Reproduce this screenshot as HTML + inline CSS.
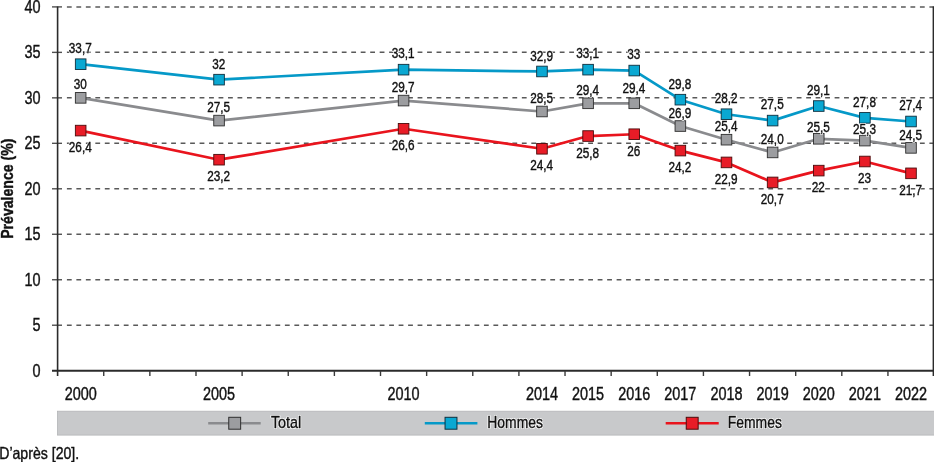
<!DOCTYPE html><html><head><meta charset="utf-8"><style>html,body{margin:0;padding:0;background:#fff;width:934px;height:462px;overflow:hidden}svg{position:absolute;left:0;top:0;will-change:transform}text{stroke:#111;stroke-width:0.4px}text.h{stroke:#fff;fill:#fff;stroke-width:2px;stroke-linejoin:round}</style></head><body>
<svg width="934" height="462" viewBox="0 0 934 462">
<line x1="66.9" y1="325.22" x2="934" y2="325.22" stroke="#595959" stroke-width="1.5" stroke-dasharray="4.8 4.678"/>
<line x1="52" y1="325.22" x2="62" y2="325.22" stroke="#505050" stroke-width="1.4"/>
<line x1="66.9" y1="279.75" x2="934" y2="279.75" stroke="#595959" stroke-width="1.5" stroke-dasharray="4.8 4.678"/>
<line x1="52" y1="279.75" x2="62" y2="279.75" stroke="#505050" stroke-width="1.4"/>
<line x1="66.9" y1="234.27" x2="934" y2="234.27" stroke="#595959" stroke-width="1.5" stroke-dasharray="4.8 4.678"/>
<line x1="52" y1="234.27" x2="62" y2="234.27" stroke="#505050" stroke-width="1.4"/>
<line x1="66.9" y1="188.80" x2="934" y2="188.80" stroke="#595959" stroke-width="1.5" stroke-dasharray="4.8 4.678"/>
<line x1="52" y1="188.80" x2="62" y2="188.80" stroke="#505050" stroke-width="1.4"/>
<line x1="66.9" y1="143.32" x2="934" y2="143.32" stroke="#595959" stroke-width="1.5" stroke-dasharray="4.8 4.678"/>
<line x1="52" y1="143.32" x2="62" y2="143.32" stroke="#505050" stroke-width="1.4"/>
<line x1="66.9" y1="97.85" x2="934" y2="97.85" stroke="#595959" stroke-width="1.5" stroke-dasharray="4.8 4.678"/>
<line x1="52" y1="97.85" x2="62" y2="97.85" stroke="#505050" stroke-width="1.4"/>
<line x1="66.9" y1="52.37" x2="934" y2="52.37" stroke="#595959" stroke-width="1.5" stroke-dasharray="4.8 4.678"/>
<line x1="52" y1="52.37" x2="62" y2="52.37" stroke="#505050" stroke-width="1.4"/>
<line x1="66.9" y1="6.90" x2="934" y2="6.90" stroke="#595959" stroke-width="1.5" stroke-dasharray="4.8 4.678"/>
<line x1="52" y1="6.90" x2="62" y2="6.90" stroke="#505050" stroke-width="1.4"/>
<line x1="57.60" y1="6.40" x2="57.60" y2="376" stroke="#2b2b2b" stroke-width="1.6"/>
<line x1="52" y1="370.70" x2="934" y2="370.70" stroke="#2b2b2b" stroke-width="2"/>
<line x1="933.4" y1="6.40" x2="933.4" y2="376" stroke="#2b2b2b" stroke-width="1.6"/>
<line x1="103.73" y1="370.70" x2="103.73" y2="376" stroke="#3a3a3a" stroke-width="1.4"/>
<line x1="149.86" y1="370.70" x2="149.86" y2="376" stroke="#3a3a3a" stroke-width="1.4"/>
<line x1="195.99" y1="370.70" x2="195.99" y2="376" stroke="#3a3a3a" stroke-width="1.4"/>
<line x1="242.12" y1="370.70" x2="242.12" y2="376" stroke="#3a3a3a" stroke-width="1.4"/>
<line x1="288.25" y1="370.70" x2="288.25" y2="376" stroke="#3a3a3a" stroke-width="1.4"/>
<line x1="334.38" y1="370.70" x2="334.38" y2="376" stroke="#3a3a3a" stroke-width="1.4"/>
<line x1="380.51" y1="370.70" x2="380.51" y2="376" stroke="#3a3a3a" stroke-width="1.4"/>
<line x1="426.64" y1="370.70" x2="426.64" y2="376" stroke="#3a3a3a" stroke-width="1.4"/>
<line x1="472.77" y1="370.70" x2="472.77" y2="376" stroke="#3a3a3a" stroke-width="1.4"/>
<line x1="518.90" y1="370.70" x2="518.90" y2="376" stroke="#3a3a3a" stroke-width="1.4"/>
<line x1="565.03" y1="370.70" x2="565.03" y2="376" stroke="#3a3a3a" stroke-width="1.4"/>
<line x1="611.16" y1="370.70" x2="611.16" y2="376" stroke="#3a3a3a" stroke-width="1.4"/>
<line x1="657.29" y1="370.70" x2="657.29" y2="376" stroke="#3a3a3a" stroke-width="1.4"/>
<line x1="703.42" y1="370.70" x2="703.42" y2="376" stroke="#3a3a3a" stroke-width="1.4"/>
<line x1="749.55" y1="370.70" x2="749.55" y2="376" stroke="#3a3a3a" stroke-width="1.4"/>
<line x1="795.68" y1="370.70" x2="795.68" y2="376" stroke="#3a3a3a" stroke-width="1.4"/>
<line x1="841.81" y1="370.70" x2="841.81" y2="376" stroke="#3a3a3a" stroke-width="1.4"/>
<line x1="887.94" y1="370.70" x2="887.94" y2="376" stroke="#3a3a3a" stroke-width="1.4"/>
<text transform="translate(40.5,376.60) scale(0.82,1)" text-anchor="end" font-family="Liberation Sans" font-size="17.6" fill="#111">0</text>
<text transform="translate(40.5,331.12) scale(0.82,1)" text-anchor="end" font-family="Liberation Sans" font-size="17.6" fill="#111">5</text>
<text transform="translate(40.5,285.65) scale(0.82,1)" text-anchor="end" font-family="Liberation Sans" font-size="17.6" fill="#111">10</text>
<text transform="translate(40.5,240.17) scale(0.82,1)" text-anchor="end" font-family="Liberation Sans" font-size="17.6" fill="#111">15</text>
<text transform="translate(40.5,194.70) scale(0.82,1)" text-anchor="end" font-family="Liberation Sans" font-size="17.6" fill="#111">20</text>
<text transform="translate(40.5,149.22) scale(0.82,1)" text-anchor="end" font-family="Liberation Sans" font-size="17.6" fill="#111">25</text>
<text transform="translate(40.5,103.75) scale(0.82,1)" text-anchor="end" font-family="Liberation Sans" font-size="17.6" fill="#111">30</text>
<text transform="translate(40.5,58.27) scale(0.82,1)" text-anchor="end" font-family="Liberation Sans" font-size="17.6" fill="#111">35</text>
<text transform="translate(40.5,12.80) scale(0.82,1)" text-anchor="end" font-family="Liberation Sans" font-size="17.6" fill="#111">40</text>
<text transform="translate(13,188.7) rotate(-90) scale(0.855,1)" text-anchor="middle" font-family="Liberation Sans" font-size="16.5" font-weight="bold" fill="#111">Prévalence (%)</text>
<text transform="translate(80.67,400) scale(0.82,1)" text-anchor="middle" font-family="Liberation Sans" font-size="17.6" fill="#111">2000</text>
<text transform="translate(219.06,400) scale(0.82,1)" text-anchor="middle" font-family="Liberation Sans" font-size="17.6" fill="#111">2005</text>
<text transform="translate(403.58,400) scale(0.82,1)" text-anchor="middle" font-family="Liberation Sans" font-size="17.6" fill="#111">2010</text>
<text transform="translate(541.97,400) scale(0.82,1)" text-anchor="middle" font-family="Liberation Sans" font-size="17.6" fill="#111">2014</text>
<text transform="translate(588.10,400) scale(0.82,1)" text-anchor="middle" font-family="Liberation Sans" font-size="17.6" fill="#111">2015</text>
<text transform="translate(634.23,400) scale(0.82,1)" text-anchor="middle" font-family="Liberation Sans" font-size="17.6" fill="#111">2016</text>
<text transform="translate(680.36,400) scale(0.82,1)" text-anchor="middle" font-family="Liberation Sans" font-size="17.6" fill="#111">2017</text>
<text transform="translate(726.49,400) scale(0.82,1)" text-anchor="middle" font-family="Liberation Sans" font-size="17.6" fill="#111">2018</text>
<text transform="translate(772.62,400) scale(0.82,1)" text-anchor="middle" font-family="Liberation Sans" font-size="17.6" fill="#111">2019</text>
<text transform="translate(818.75,400) scale(0.82,1)" text-anchor="middle" font-family="Liberation Sans" font-size="17.6" fill="#111">2020</text>
<text transform="translate(864.88,400) scale(0.82,1)" text-anchor="middle" font-family="Liberation Sans" font-size="17.6" fill="#111">2021</text>
<text transform="translate(911.01,400) scale(0.82,1)" text-anchor="middle" font-family="Liberation Sans" font-size="17.6" fill="#111">2022</text>
<polyline points="80.67,97.85 219.06,120.59 403.58,100.58 541.97,111.49 588.10,103.31 634.23,103.31 680.36,126.04 726.49,139.69 772.62,152.42 818.75,138.78 864.88,140.60 911.01,147.87" fill="none" stroke="#8a8b8e" stroke-width="2.7" stroke-linejoin="round"/>
<rect x="75.37" y="92.55" width="10.6" height="10.6" fill="#9c9da0" stroke="#2e2e2e" stroke-width="0.9"/>
<rect x="213.75" y="115.29" width="10.6" height="10.6" fill="#9c9da0" stroke="#2e2e2e" stroke-width="0.9"/>
<rect x="398.28" y="95.28" width="10.6" height="10.6" fill="#9c9da0" stroke="#2e2e2e" stroke-width="0.9"/>
<rect x="536.67" y="106.19" width="10.6" height="10.6" fill="#9c9da0" stroke="#2e2e2e" stroke-width="0.9"/>
<rect x="582.80" y="98.01" width="10.6" height="10.6" fill="#9c9da0" stroke="#2e2e2e" stroke-width="0.9"/>
<rect x="628.93" y="98.01" width="10.6" height="10.6" fill="#9c9da0" stroke="#2e2e2e" stroke-width="0.9"/>
<rect x="675.06" y="120.74" width="10.6" height="10.6" fill="#9c9da0" stroke="#2e2e2e" stroke-width="0.9"/>
<rect x="721.19" y="134.39" width="10.6" height="10.6" fill="#9c9da0" stroke="#2e2e2e" stroke-width="0.9"/>
<rect x="767.32" y="147.12" width="10.6" height="10.6" fill="#9c9da0" stroke="#2e2e2e" stroke-width="0.9"/>
<rect x="813.45" y="133.48" width="10.6" height="10.6" fill="#9c9da0" stroke="#2e2e2e" stroke-width="0.9"/>
<rect x="859.58" y="135.30" width="10.6" height="10.6" fill="#9c9da0" stroke="#2e2e2e" stroke-width="0.9"/>
<rect x="905.71" y="142.57" width="10.6" height="10.6" fill="#9c9da0" stroke="#2e2e2e" stroke-width="0.9"/>
<polyline points="80.67,130.59 219.06,159.70 403.58,128.77 541.97,148.78 588.10,136.05 634.23,134.23 680.36,150.60 726.49,162.42 772.62,182.43 818.75,170.61 864.88,161.51 911.01,173.34" fill="none" stroke="#e9141d" stroke-width="2.7" stroke-linejoin="round"/>
<rect x="75.37" y="125.29" width="10.6" height="10.6" fill="#e81c27" stroke="#4a0c0c" stroke-width="0.9"/>
<rect x="213.75" y="154.40" width="10.6" height="10.6" fill="#e81c27" stroke="#4a0c0c" stroke-width="0.9"/>
<rect x="398.28" y="123.47" width="10.6" height="10.6" fill="#e81c27" stroke="#4a0c0c" stroke-width="0.9"/>
<rect x="536.67" y="143.48" width="10.6" height="10.6" fill="#e81c27" stroke="#4a0c0c" stroke-width="0.9"/>
<rect x="582.80" y="130.75" width="10.6" height="10.6" fill="#e81c27" stroke="#4a0c0c" stroke-width="0.9"/>
<rect x="628.93" y="128.93" width="10.6" height="10.6" fill="#e81c27" stroke="#4a0c0c" stroke-width="0.9"/>
<rect x="675.06" y="145.30" width="10.6" height="10.6" fill="#e81c27" stroke="#4a0c0c" stroke-width="0.9"/>
<rect x="721.19" y="157.12" width="10.6" height="10.6" fill="#e81c27" stroke="#4a0c0c" stroke-width="0.9"/>
<rect x="767.32" y="177.13" width="10.6" height="10.6" fill="#e81c27" stroke="#4a0c0c" stroke-width="0.9"/>
<rect x="813.45" y="165.31" width="10.6" height="10.6" fill="#e81c27" stroke="#4a0c0c" stroke-width="0.9"/>
<rect x="859.58" y="156.21" width="10.6" height="10.6" fill="#e81c27" stroke="#4a0c0c" stroke-width="0.9"/>
<rect x="905.71" y="168.04" width="10.6" height="10.6" fill="#e81c27" stroke="#4a0c0c" stroke-width="0.9"/>
<polyline points="80.67,64.20 219.06,79.66 403.58,69.66 541.97,71.47 588.10,69.66 634.23,70.56 680.36,99.67 726.49,114.22 772.62,120.59 818.75,106.04 864.88,117.86 911.01,121.50" fill="none" stroke="#0599c8" stroke-width="2.7" stroke-linejoin="round"/>
<rect x="75.37" y="58.90" width="10.6" height="10.6" fill="#0aa8d2" stroke="#0f2f3e" stroke-width="0.9"/>
<rect x="213.75" y="74.36" width="10.6" height="10.6" fill="#0aa8d2" stroke="#0f2f3e" stroke-width="0.9"/>
<rect x="398.28" y="64.36" width="10.6" height="10.6" fill="#0aa8d2" stroke="#0f2f3e" stroke-width="0.9"/>
<rect x="536.67" y="66.17" width="10.6" height="10.6" fill="#0aa8d2" stroke="#0f2f3e" stroke-width="0.9"/>
<rect x="582.80" y="64.36" width="10.6" height="10.6" fill="#0aa8d2" stroke="#0f2f3e" stroke-width="0.9"/>
<rect x="628.93" y="65.26" width="10.6" height="10.6" fill="#0aa8d2" stroke="#0f2f3e" stroke-width="0.9"/>
<rect x="675.06" y="94.37" width="10.6" height="10.6" fill="#0aa8d2" stroke="#0f2f3e" stroke-width="0.9"/>
<rect x="721.19" y="108.92" width="10.6" height="10.6" fill="#0aa8d2" stroke="#0f2f3e" stroke-width="0.9"/>
<rect x="767.32" y="115.29" width="10.6" height="10.6" fill="#0aa8d2" stroke="#0f2f3e" stroke-width="0.9"/>
<rect x="813.45" y="100.74" width="10.6" height="10.6" fill="#0aa8d2" stroke="#0f2f3e" stroke-width="0.9"/>
<rect x="859.58" y="112.56" width="10.6" height="10.6" fill="#0aa8d2" stroke="#0f2f3e" stroke-width="0.9"/>
<rect x="905.71" y="116.20" width="10.6" height="10.6" fill="#0aa8d2" stroke="#0f2f3e" stroke-width="0.9"/>
<text class="h" transform="translate(80.27,88.70) scale(0.812,1)" text-anchor="middle" font-family="Liberation Sans" font-size="14.5">30</text>
<text transform="translate(80.27,88.70) scale(0.812,1)" text-anchor="middle" font-family="Liberation Sans" font-size="14.5" fill="#111">30</text>
<text class="h" transform="translate(218.66,111.90) scale(0.812,1)" text-anchor="middle" font-family="Liberation Sans" font-size="14.5">27,5</text>
<text transform="translate(218.66,111.90) scale(0.812,1)" text-anchor="middle" font-family="Liberation Sans" font-size="14.5" fill="#111">27,5</text>
<text class="h" transform="translate(403.18,91.90) scale(0.812,1)" text-anchor="middle" font-family="Liberation Sans" font-size="14.5">29,7</text>
<text transform="translate(403.18,91.90) scale(0.812,1)" text-anchor="middle" font-family="Liberation Sans" font-size="14.5" fill="#111">29,7</text>
<text class="h" transform="translate(541.57,103.20) scale(0.812,1)" text-anchor="middle" font-family="Liberation Sans" font-size="14.5">28,5</text>
<text transform="translate(541.57,103.20) scale(0.812,1)" text-anchor="middle" font-family="Liberation Sans" font-size="14.5" fill="#111">28,5</text>
<text class="h" transform="translate(587.70,94.80) scale(0.812,1)" text-anchor="middle" font-family="Liberation Sans" font-size="14.5">29,4</text>
<text transform="translate(587.70,94.80) scale(0.812,1)" text-anchor="middle" font-family="Liberation Sans" font-size="14.5" fill="#111">29,4</text>
<text class="h" transform="translate(633.83,92.80) scale(0.812,1)" text-anchor="middle" font-family="Liberation Sans" font-size="14.5">29,4</text>
<text transform="translate(633.83,92.80) scale(0.812,1)" text-anchor="middle" font-family="Liberation Sans" font-size="14.5" fill="#111">29,4</text>
<text class="h" transform="translate(679.96,117.90) scale(0.812,1)" text-anchor="middle" font-family="Liberation Sans" font-size="14.5">26,9</text>
<text transform="translate(679.96,117.90) scale(0.812,1)" text-anchor="middle" font-family="Liberation Sans" font-size="14.5" fill="#111">26,9</text>
<text class="h" transform="translate(726.09,131.20) scale(0.812,1)" text-anchor="middle" font-family="Liberation Sans" font-size="14.5">25,4</text>
<text transform="translate(726.09,131.20) scale(0.812,1)" text-anchor="middle" font-family="Liberation Sans" font-size="14.5" fill="#111">25,4</text>
<text class="h" transform="translate(772.22,143.80) scale(0.812,1)" text-anchor="middle" font-family="Liberation Sans" font-size="14.5">24,0</text>
<text transform="translate(772.22,143.80) scale(0.812,1)" text-anchor="middle" font-family="Liberation Sans" font-size="14.5" fill="#111">24,0</text>
<text class="h" transform="translate(818.35,132.20) scale(0.812,1)" text-anchor="middle" font-family="Liberation Sans" font-size="14.5">25,5</text>
<text transform="translate(818.35,132.20) scale(0.812,1)" text-anchor="middle" font-family="Liberation Sans" font-size="14.5" fill="#111">25,5</text>
<text class="h" transform="translate(864.48,133.90) scale(0.812,1)" text-anchor="middle" font-family="Liberation Sans" font-size="14.5">25,3</text>
<text transform="translate(864.48,133.90) scale(0.812,1)" text-anchor="middle" font-family="Liberation Sans" font-size="14.5" fill="#111">25,3</text>
<text class="h" transform="translate(910.61,139.60) scale(0.812,1)" text-anchor="middle" font-family="Liberation Sans" font-size="14.5">24,5</text>
<text transform="translate(910.61,139.60) scale(0.812,1)" text-anchor="middle" font-family="Liberation Sans" font-size="14.5" fill="#111">24,5</text>
<text class="h" transform="translate(80.27,151.80) scale(0.812,1)" text-anchor="middle" font-family="Liberation Sans" font-size="14.5">26,4</text>
<text transform="translate(80.27,151.80) scale(0.812,1)" text-anchor="middle" font-family="Liberation Sans" font-size="14.5" fill="#111">26,4</text>
<text class="h" transform="translate(218.66,181.10) scale(0.812,1)" text-anchor="middle" font-family="Liberation Sans" font-size="14.5">23,2</text>
<text transform="translate(218.66,181.10) scale(0.812,1)" text-anchor="middle" font-family="Liberation Sans" font-size="14.5" fill="#111">23,2</text>
<text class="h" transform="translate(403.18,150.10) scale(0.812,1)" text-anchor="middle" font-family="Liberation Sans" font-size="14.5">26,6</text>
<text transform="translate(403.18,150.10) scale(0.812,1)" text-anchor="middle" font-family="Liberation Sans" font-size="14.5" fill="#111">26,6</text>
<text class="h" transform="translate(541.57,170.10) scale(0.812,1)" text-anchor="middle" font-family="Liberation Sans" font-size="14.5">24,4</text>
<text transform="translate(541.57,170.10) scale(0.812,1)" text-anchor="middle" font-family="Liberation Sans" font-size="14.5" fill="#111">24,4</text>
<text class="h" transform="translate(587.70,157.70) scale(0.812,1)" text-anchor="middle" font-family="Liberation Sans" font-size="14.5">25,8</text>
<text transform="translate(587.70,157.70) scale(0.812,1)" text-anchor="middle" font-family="Liberation Sans" font-size="14.5" fill="#111">25,8</text>
<text class="h" transform="translate(633.83,155.60) scale(0.812,1)" text-anchor="middle" font-family="Liberation Sans" font-size="14.5">26</text>
<text transform="translate(633.83,155.60) scale(0.812,1)" text-anchor="middle" font-family="Liberation Sans" font-size="14.5" fill="#111">26</text>
<text class="h" transform="translate(679.96,171.60) scale(0.812,1)" text-anchor="middle" font-family="Liberation Sans" font-size="14.5">24,2</text>
<text transform="translate(679.96,171.60) scale(0.812,1)" text-anchor="middle" font-family="Liberation Sans" font-size="14.5" fill="#111">24,2</text>
<text class="h" transform="translate(726.09,183.60) scale(0.812,1)" text-anchor="middle" font-family="Liberation Sans" font-size="14.5">22,9</text>
<text transform="translate(726.09,183.60) scale(0.812,1)" text-anchor="middle" font-family="Liberation Sans" font-size="14.5" fill="#111">22,9</text>
<text class="h" transform="translate(772.22,203.60) scale(0.812,1)" text-anchor="middle" font-family="Liberation Sans" font-size="14.5">20,7</text>
<text transform="translate(772.22,203.60) scale(0.812,1)" text-anchor="middle" font-family="Liberation Sans" font-size="14.5" fill="#111">20,7</text>
<text class="h" transform="translate(818.35,192.00) scale(0.812,1)" text-anchor="middle" font-family="Liberation Sans" font-size="14.5">22</text>
<text transform="translate(818.35,192.00) scale(0.812,1)" text-anchor="middle" font-family="Liberation Sans" font-size="14.5" fill="#111">22</text>
<text class="h" transform="translate(864.48,182.70) scale(0.812,1)" text-anchor="middle" font-family="Liberation Sans" font-size="14.5">23</text>
<text transform="translate(864.48,182.70) scale(0.812,1)" text-anchor="middle" font-family="Liberation Sans" font-size="14.5" fill="#111">23</text>
<text class="h" transform="translate(910.61,194.60) scale(0.812,1)" text-anchor="middle" font-family="Liberation Sans" font-size="14.5">21,7</text>
<text transform="translate(910.61,194.60) scale(0.812,1)" text-anchor="middle" font-family="Liberation Sans" font-size="14.5" fill="#111">21,7</text>
<text class="h" transform="translate(80.27,52.80) scale(0.812,1)" text-anchor="middle" font-family="Liberation Sans" font-size="14.5">33,7</text>
<text transform="translate(80.27,52.80) scale(0.812,1)" text-anchor="middle" font-family="Liberation Sans" font-size="14.5" fill="#111">33,7</text>
<text class="h" transform="translate(218.66,68.60) scale(0.812,1)" text-anchor="middle" font-family="Liberation Sans" font-size="14.5">32</text>
<text transform="translate(218.66,68.60) scale(0.812,1)" text-anchor="middle" font-family="Liberation Sans" font-size="14.5" fill="#111">32</text>
<text class="h" transform="translate(403.18,58.40) scale(0.812,1)" text-anchor="middle" font-family="Liberation Sans" font-size="14.5">33,1</text>
<text transform="translate(403.18,58.40) scale(0.812,1)" text-anchor="middle" font-family="Liberation Sans" font-size="14.5" fill="#111">33,1</text>
<text class="h" transform="translate(541.57,60.50) scale(0.812,1)" text-anchor="middle" font-family="Liberation Sans" font-size="14.5">32,9</text>
<text transform="translate(541.57,60.50) scale(0.812,1)" text-anchor="middle" font-family="Liberation Sans" font-size="14.5" fill="#111">32,9</text>
<text class="h" transform="translate(587.70,58.40) scale(0.812,1)" text-anchor="middle" font-family="Liberation Sans" font-size="14.5">33,1</text>
<text transform="translate(587.70,58.40) scale(0.812,1)" text-anchor="middle" font-family="Liberation Sans" font-size="14.5" fill="#111">33,1</text>
<text class="h" transform="translate(633.83,59.20) scale(0.812,1)" text-anchor="middle" font-family="Liberation Sans" font-size="14.5">33</text>
<text transform="translate(633.83,59.20) scale(0.812,1)" text-anchor="middle" font-family="Liberation Sans" font-size="14.5" fill="#111">33</text>
<text class="h" transform="translate(679.96,88.60) scale(0.812,1)" text-anchor="middle" font-family="Liberation Sans" font-size="14.5">29,8</text>
<text transform="translate(679.96,88.60) scale(0.812,1)" text-anchor="middle" font-family="Liberation Sans" font-size="14.5" fill="#111">29,8</text>
<text class="h" transform="translate(726.09,102.80) scale(0.812,1)" text-anchor="middle" font-family="Liberation Sans" font-size="14.5">28,2</text>
<text transform="translate(726.09,102.80) scale(0.812,1)" text-anchor="middle" font-family="Liberation Sans" font-size="14.5" fill="#111">28,2</text>
<text class="h" transform="translate(772.22,109.30) scale(0.812,1)" text-anchor="middle" font-family="Liberation Sans" font-size="14.5">27,5</text>
<text transform="translate(772.22,109.30) scale(0.812,1)" text-anchor="middle" font-family="Liberation Sans" font-size="14.5" fill="#111">27,5</text>
<text class="h" transform="translate(818.35,94.80) scale(0.812,1)" text-anchor="middle" font-family="Liberation Sans" font-size="14.5">29,1</text>
<text transform="translate(818.35,94.80) scale(0.812,1)" text-anchor="middle" font-family="Liberation Sans" font-size="14.5" fill="#111">29,1</text>
<text class="h" transform="translate(864.48,106.60) scale(0.812,1)" text-anchor="middle" font-family="Liberation Sans" font-size="14.5">27,8</text>
<text transform="translate(864.48,106.60) scale(0.812,1)" text-anchor="middle" font-family="Liberation Sans" font-size="14.5" fill="#111">27,8</text>
<text class="h" transform="translate(910.61,110.00) scale(0.812,1)" text-anchor="middle" font-family="Liberation Sans" font-size="14.5">27,4</text>
<text transform="translate(910.61,110.00) scale(0.812,1)" text-anchor="middle" font-family="Liberation Sans" font-size="14.5" fill="#111">27,4</text>
<rect x="57.5" y="411.2" width="877" height="23.9" fill="#c8c9cb" stroke="#b4b5b7" stroke-width="0.8"/>
<line x1="208.2" y1="423.3" x2="260.7" y2="423.3" stroke="#8a8b8e" stroke-width="2.5"/>
<rect x="228.75" y="417.3" width="11.9" height="11.9" fill="#9c9da0" stroke="#2e2e2e" stroke-width="1"/>
<text class="h" transform="translate(270.9,428.3) scale(0.873,1)" font-family="Liberation Sans" font-size="16.5">Total</text>
<text transform="translate(270.9,428.3) scale(0.873,1)" font-family="Liberation Sans" font-size="16.5" fill="#111">Total</text>
<line x1="424.8" y1="423.3" x2="477.4" y2="423.3" stroke="#0599c8" stroke-width="2.5"/>
<rect x="445.05" y="417.3" width="11.9" height="11.9" fill="#0aa8d2" stroke="#0f2f3e" stroke-width="1"/>
<text class="h" transform="translate(487.3,428.3) scale(0.843,1)" font-family="Liberation Sans" font-size="16.5">Hommes</text>
<text transform="translate(487.3,428.3) scale(0.843,1)" font-family="Liberation Sans" font-size="16.5" fill="#111">Hommes</text>
<line x1="665.7" y1="423.3" x2="718.7" y2="423.3" stroke="#e9141d" stroke-width="2.5"/>
<rect x="686.25" y="417.3" width="11.9" height="11.9" fill="#e81c27" stroke="#4a0c0c" stroke-width="1"/>
<text class="h" transform="translate(727.8,428.3) scale(0.844,1)" font-family="Liberation Sans" font-size="16.5">Femmes</text>
<text transform="translate(727.8,428.3) scale(0.844,1)" font-family="Liberation Sans" font-size="16.5" fill="#111">Femmes</text>
<text transform="translate(-0.8,458.5) scale(0.855,1)" font-family="Liberation Sans" font-size="16.5" fill="#111">D’après [20].</text>
</svg></body></html>
